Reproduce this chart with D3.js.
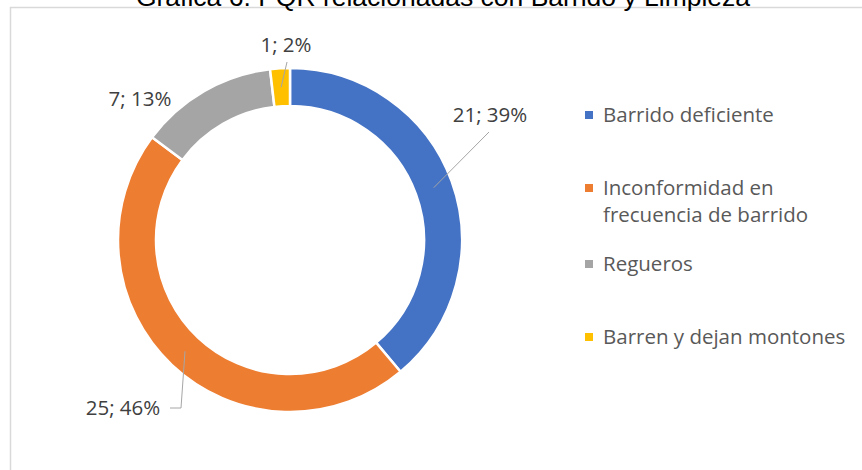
<!DOCTYPE html>
<html>
<head>
<meta charset="utf-8">
<script src="https://cdn.jsdelivr.net/npm/d3@7"></script>
<style>
  body { margin: 0; background: #fff; }
  text { font-family: "Open Sans", "Noto Sans", sans-serif; }
</style>
</head>
<body>
<div id="chart"></div>
<script>
// PQR por tipo - barrido y limpieza
let title = 'Gráfica 6. PQR relacionadas con Barrido y Limpieza';
let categories = ['Barrido deficiente', 'Inconformidad en frecuencia de barrido', 'Regueros', 'Barren y dejan montones'];
let values = [21, 25, 7, 1];
let colors = ['#4472C4', '#ED7D31', '#A5A5A5', '#FFC000'];

// where the data labels sit (manually placed in the original)
let labelPos = [[490, 115], [123, 408], [140, 99], [286, 45]];
let hasLeader = [true, true, false, true];

let width = 862;
let height = 470;
let cx = 290, cy = 240;
let outerR = 172, innerR = 134;

let svg = d3.select('#chart')
    .append('svg')
    .attr('width', width)
    .attr('height', height);

svg.append('rect')
    .attr('x', 10.5)
    .attr('y', 7.5)
    .attr('width', 900)
    .attr('height', 500)
    .attr('fill', 'none')
    .attr('stroke', '#d9d9d9')
    .attr('stroke-width', 1.5);

svg.append('text')
    .attr('x', 443)
    .attr('y', 6)
    .attr('text-anchor', 'middle')
    .style('font-family', '"Liberation Sans", Arial, sans-serif')
    .style('font-size', '26.5px')
    .attr('fill', '#000')
    .text(title);

let total = d3.sum(values);
let pie = d3.pie().sort(null).value(function(d) { return d; });
let arc = d3.arc().innerRadius(innerR).outerRadius(outerR);
let arcs = pie(values);

let g = svg.append('g').attr('transform', 'translate(' + cx + ',' + cy + ')');

g.selectAll('path.slice')
    .data(arcs)
    .enter()
    .append('path')
    .attr('class', 'slice')
    .attr('d', arc)
    .attr('fill', function(d, i) { return colors[i]; })
    .attr('stroke', '#fff')
    .attr('stroke-width', 2.5);

// leader lines
arcs.forEach(function(d, i) {
    if (!hasLeader[i]) return;
    let c = arc.centroid(d);
    let x0 = cx + c[0], y0 = cy + c[1];
    let lp = labelPos[i];
    let pts;
    if (i === 0) pts = [[x0, y0], [lp[0] - 1, lp[1] + 17]];
    else if (i === 1) pts = [[x0, y0], [x0 - 4, lp[1]], [lp[0] + 47, lp[1]]];
    else pts = [[x0, y0], [lp[0] + 1, lp[1] + 17]];
    svg.append('path')
        .attr('d', d3.line()(pts))
        .attr('fill', 'none')
        .attr('stroke', '#a6a6a6')
        .attr('stroke-width', 1);
});

svg.selectAll('text.dlabel')
    .data(values)
    .enter()
    .append('text')
    .attr('class', 'dlabel')
    .attr('x', function(d, i) { return labelPos[i][0]; })
    .attr('y', function(d, i) { return labelPos[i][1]; })
    .attr('dy', '0.35em')
    .attr('text-anchor', 'middle')
    .attr('fill', '#404040')
    .style('font-size', '20.5px')
    .text(function(d) { return d + '; ' + Math.round(d / total * 100) + '%'; });

// legend
let legendRows = [['Barrido deficiente'], ['Inconformidad en', 'frecuencia de barrido'], ['Regueros'], ['Barren y dejan montones']];
let legendY = [115, 188, 264, 337];
let legend = svg.append('g');
legendRows.forEach(function(lines, i) {
    legend.append('rect')
        .attr('x', 585)
        .attr('y', legendY[i] - 4)
        .attr('width', 8)
        .attr('height', 8)
        .attr('fill', colors[i]);
    lines.forEach(function(t, j) {
        legend.append('text')
            .attr('x', 603)
            .attr('y', legendY[i] + j * 27)
            .attr('dy', '0.35em')
            .attr('fill', '#595959')
            .style('font-size', '20.5px')
            .text(t);
    });
});
</script>
</body>
</html>
